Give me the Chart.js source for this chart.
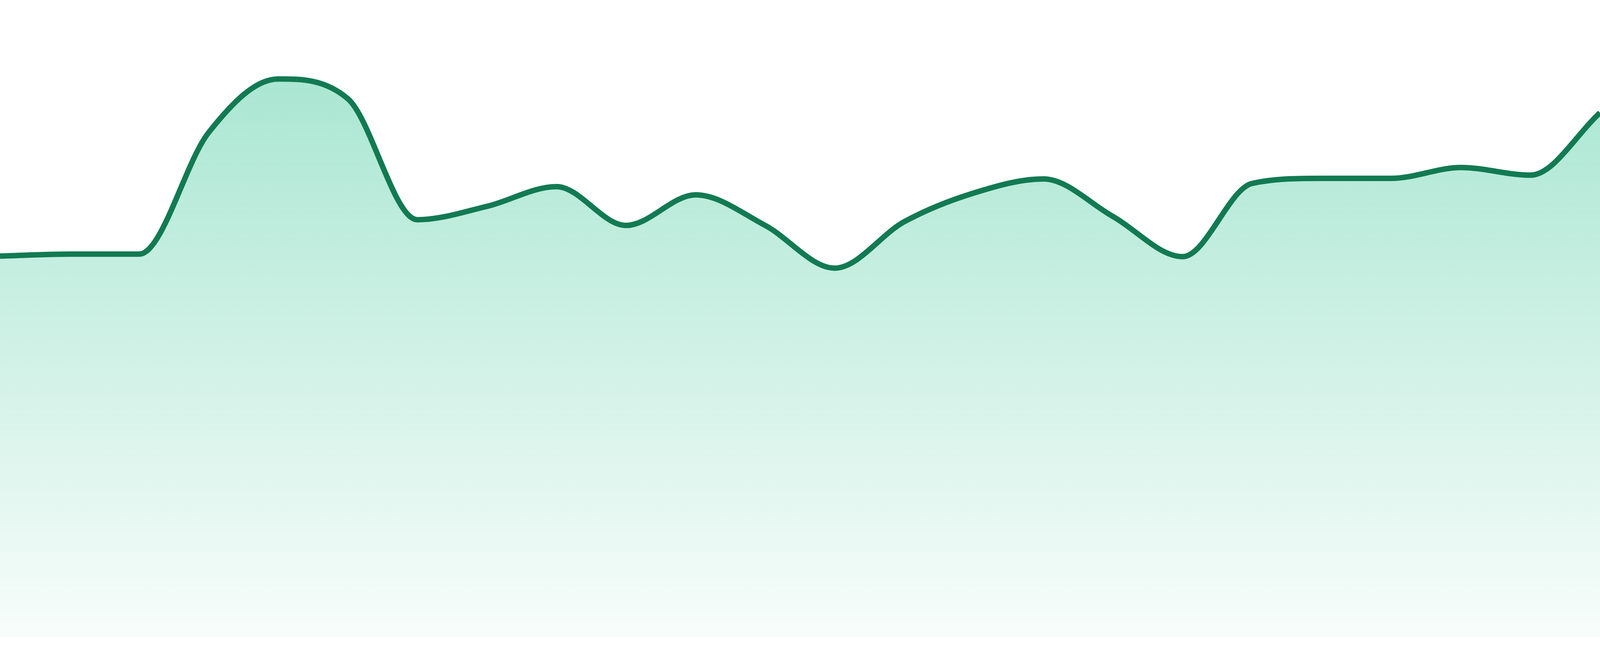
<!DOCTYPE html>
<html>
<head>
<meta charset="utf-8">
<script src="https://cdn.jsdelivr.net/npm/chart.js@4/dist/chart.umd.min.js"></script>
<style>
  html, body { margin: 0; padding: 0; background: #ffffff; overflow: hidden; }
  #wrap { position: fixed; left: 0; top: 0; width: 100vw; height: 100vh; }
  canvas { display: block; }
</style>
</head>
<body>
<div id="wrap"><canvas id="spark"></canvas></div>
<script>
// 24 evenly spaced samples (axes hidden, 0..100 scale)
var labels = [
  "01", "02", "03", "04", "05", "06", "07", "08", "09", "10", "11", "12",
  "13", "14", "15", "16", "17", "18", "19", "20", "21", "22", "23", "24"
];
var values = [
  59.8, 60.1, 60.1, 79.2, 87.6, 84.5, 65.5, 67.6, 70.7, 64.6, 69.4, 64.6,
  57.9, 65.2, 69.7, 71.9, 66.0, 59.7, 71.2, 72.0, 72.0, 73.7, 72.5, 82.3
];
var yMin = 0;
var yMax = 100;

var COL = {
  line: "#127a52",
  fillTop: "rgba(16,185,129,0.40)",
  fillBottom: "rgba(16,185,129,0.03)",
};

// the reference was drawn at 1680px tall: keep stroke and bottom gap in proportion
// to whatever height the viewport really has.
var wrap = document.getElementById("wrap");
var H = wrap.clientHeight || 1680;
var k = H / 1680;

function areaGradient(ctx) {
  var chart = ctx.chart;
  var area = chart.chartArea;
  if (!area) return COL.fillTop;
  var g = chart.ctx.createLinearGradient(0, area.top, 0, area.bottom);
  g.addColorStop(0, COL.fillTop);
  g.addColorStop(1, COL.fillBottom);
  return g;
}

new Chart(document.getElementById("spark").getContext("2d"), {
  type: "line",
  data: {
    labels: labels,
    datasets: [{
      data: values,
      borderColor: COL.line,
      borderWidth: 14 * k,
      backgroundColor: areaGradient,
      fill: "origin",
      cubicInterpolationMode: "monotone",
      pointRadius: 0,
      pointHoverRadius: 0,
    }],
  },
  options: {
    responsive: true,
    maintainAspectRatio: false,
    animation: false,
    layout: { padding: { top: 0, right: 0, bottom: 49 * k, left: 0 } },
    plugins: { legend: { display: false }, tooltip: { enabled: false } },
    scales: {
      x: { display: false, offset: false },
      y: { display: false, min: yMin, max: yMax },
    },
  },
});
</script>
</body>
</html>
